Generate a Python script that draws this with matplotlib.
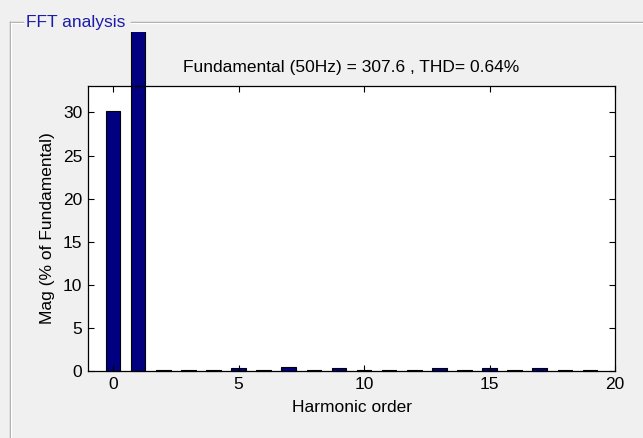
import numpy as np
import matplotlib.pyplot as plt
from matplotlib.transforms import Bbox
from matplotlib.lines import Line2D

plt.rcParams['font.family'] = ['Liberation Sans', 'DejaVu Sans']

# harmonic spectrum (% of fundamental)
orders = np.arange(0, 20)
mags = [30.2, 100.0, 0.15, 0.1, 0.12, 0.35, 0.12, 0.5, 0.12, 0.3,
        0.1, 0.12, 0.1, 0.3, 0.12, 0.35, 0.12, 0.35, 0.1, 0.1]
title_txt = 'Fundamental (50Hz) = 307.6 , THD= 0.64%'
panel_txt = 'FFT analysis'

bg = '#f0f0f0'
fig = plt.figure(figsize=(6.43, 4.38), dpi=100, facecolor=bg)
W, H = 643, 438

# axes box in pixels: left 88, right 615, top 86, bottom 371
ax = fig.add_axes([88 / W, 1 - 371 / H, (615 - 88) / W, (371 - 86) / H])
ax.set_facecolor('white')

bars = ax.bar(orders, mags, width=0.58, color='#000080', edgecolor='black', linewidth=0.8)
# the fundamental bar spills out of the axes like the MATLAB gui
clip = Bbox.from_extents(0, 0, W, H - 32)
for b in bars:
    b.set_clip_box(clip)

ax.set_xlim(-1, 20)
ax.set_ylim(0, 33.07)
ax.set_xticks([0, 5, 10, 15, 20])
ax.set_yticks([0, 5, 10, 15, 20, 25, 30])
ax.tick_params(direction='in', top=True, right=True, labelsize=12.5, length=4, width=0.8, pad=4)
for s in ax.spines.values():
    s.set_linewidth(0.9)
ax.set_xlabel('Harmonic order', fontsize=12.5, labelpad=6)
ax.set_ylabel('Mag (% of Fundamental)', fontsize=12.5, labelpad=6)
ax.set_title(title_txt, fontsize=12.5, pad=10)

# etched panel border
def px(x, y):
    return x / W, 1 - y / H

for off, col in [(0, '#a0a0a0'), (1, 'white')]:
    x0, y0 = px(10 + off, 22 + off)
    xb, yb = px(10 + off, H)
    fig.add_artist(Line2D([x0, xb], [y0, yb], color=col, lw=1))
    fig.add_artist(Line2D([x0, px(23, 0)[0]], [y0, y0], color=col, lw=1))
    fig.add_artist(Line2D([px(131, 0)[0], 1], [y0, y0], color=col, lw=1))
fig.text(26 / W, 1 - 22 / H, panel_txt, color='#1c1ca8', fontsize=12.5, va='center', ha='left')

fig.savefig('out.png', dpi=100, facecolor=bg)
